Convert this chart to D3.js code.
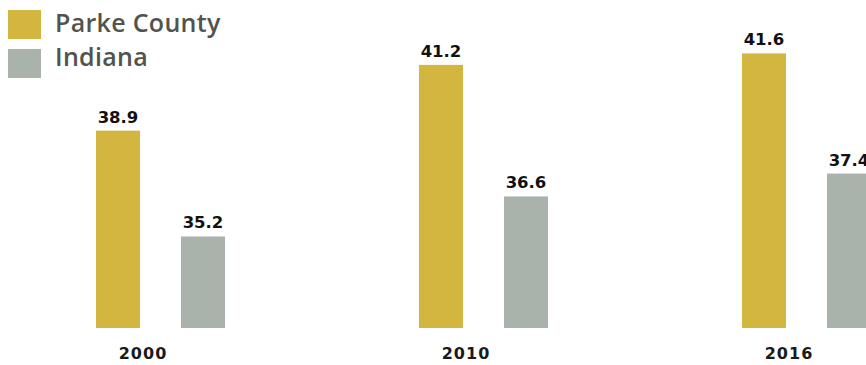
<!DOCTYPE html>
<html>
<head>
<meta charset="utf-8">
<script src="https://cdn.jsdelivr.net/npm/d3@7"></script>
<style>
  html, body { margin: 0; padding: 0; background: #fff; }
  svg { display: block; }
</style>
</head>
<body>
<svg id="chart" width="866" height="365"></svg>
<script>
// Median age, Parke County vs. Indiana
const years = ["2000", "2010", "2016"];
const seriesNames = ["Parke County", "Indiana"];
const parkeCounty = [38.9, 41.2, 41.6];
const indiana = [35.2, 36.6, 37.4];
const seriesColors = ["#D3B63F", "#A9B3AB"];

const rows = years.map((yr, i) => ({
  year: yr,
  values: [
    { key: seriesNames[0], value: parkeCounty[i] },
    { key: seriesNames[1], value: indiana[i] }
  ]
}));

const svg = d3.select("#chart");

const x0 = d3.scaleBand()
  .domain(years)
  .range([96, 96 + 3 * 323])
  .paddingInner(0)
  .paddingOuter(0);

const x1 = d3.scaleBand()
  .domain(seriesNames)
  .range([0, 129])
  .paddingInner(0.482)
  .paddingOuter(0);

const y = d3.scaleLinear()
  .domain([32, 42])
  .range([328, 42]);

const color = d3.scaleOrdinal().domain(seriesNames).range(seriesColors);

const groups = svg.append("g")
  .selectAll("g")
  .data(rows)
  .join("g")
  .attr("transform", d => `translate(${x0(d.year)},0)`);

groups.selectAll("rect")
  .data(d => d.values)
  .join("rect")
  .attr("x", d => x1(d.key))
  .attr("y", d => y(d.value))
  .attr("width", x1.bandwidth())
  .attr("height", d => y(32) - y(d.value))
  .attr("fill", d => color(d.key));

groups.selectAll("text.val")
  .data(d => d.values)
  .join("text")
  .attr("class", "val")
  .attr("x", d => x1(d.key) + x1.bandwidth() / 2)
  .attr("y", d => y(d.value) - 8)
  .attr("text-anchor", "middle")
  .style("font-family", "'DejaVu Sans', sans-serif")
  .style("font-weight", "bold")
  .style("font-size", "16.5px")
  .style("fill", "#111")
  .text(d => d.value.toFixed(1));

// Year labels below the bars
svg.append("g")
  .selectAll("text")
  .data(years)
  .join("text")
  .attr("x", d => x0(d) + 47)
  .attr("y", 359)
  .attr("text-anchor", "middle")
  .style("font-family", "'DejaVu Sans', sans-serif")
  .style("font-weight", "bold")
  .style("font-size", "16px")
  .style("letter-spacing", "1px")
  .style("fill", "#1a1a1a")
  .text(d => d);

// Legend
const legend = svg.append("g");

legend.selectAll("rect")
  .data(seriesNames)
  .join("rect")
  .attr("x", 8)
  .attr("y", (d, i) => 10 + i * 39)
  .attr("width", 33)
  .attr("height", 29)
  .attr("fill", d => color(d));

legend.selectAll("text")
  .data(seriesNames)
  .join("text")
  .attr("x", 55)
  .attr("y", (d, i) => 31.5 + i * 34.5)
  .style("font-family", "'Open Sans', sans-serif")
  .style("font-weight", "600")
  .style("font-size", "25px")
  .style("letter-spacing", "0.3px")
  .style("fill", "#53534d")
  .text(d => d);
</script>
</body>
</html>
